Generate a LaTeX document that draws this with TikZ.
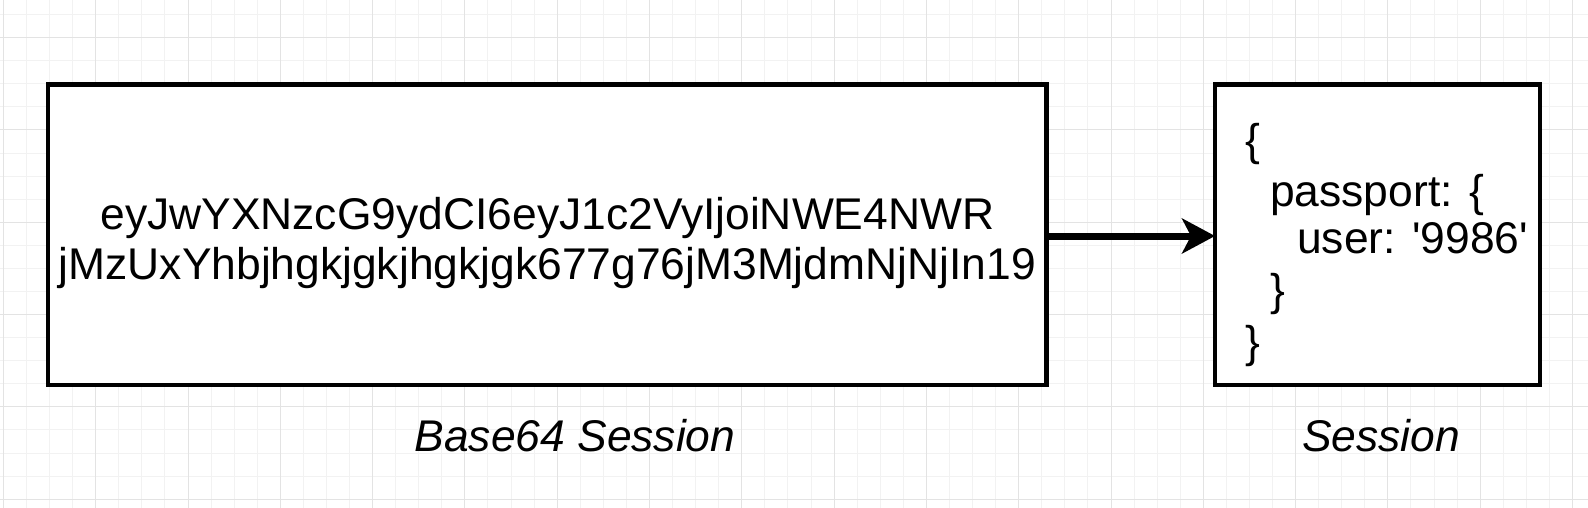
\documentclass[tikz,border=0pt]{standalone}
\usepackage{fontspec}
\setmainfont{Liberation Sans}[Ligatures=TeXOff]
\usetikzlibrary{arrows.meta}
\begin{document}
\begin{tikzpicture}[x=1pt,y=-1pt,
  gridminor/.style={draw=black!5, line width=1pt},
  gridmajor/.style={draw=black!11, line width=1pt},
  box/.style={draw=black, line width=4.5pt, inner sep=0pt, outer sep=0pt, fill=white},
  boxtext/.style={inner sep=0pt, font=\fontsize{44.4}{50}\selectfont},
  caption/.style={inner sep=0pt, font=\fontsize{44.4}{50}\selectfont\itshape},
  flow/.style={line width=7pt, -{Stealth[length=33pt,width=35pt,inset=9pt]}}
]
\useasboundingbox (0,0) rectangle (1588,508);
\fill[white] (0,0) rectangle (1588,508);
\foreach \i in {0,...,68} \draw[gridminor] ({3.4+\i*23.075},0) -- ({3.4+\i*23.075},508);
\foreach \j in {0,...,21} \draw[gridminor] (0,{14.6+\j*23.075}) -- (1588,{14.6+\j*23.075});
\foreach \i in {0,...,17} \draw[gridmajor] ({3.4+\i*92.3},0) -- ({3.4+\i*92.3},508);
\foreach \j in {0,...,5} \draw[gridmajor] (0,{37.7+\j*92.3}) -- (1588,{37.7+\j*92.3});

\node[box, minimum width=998.7pt, minimum height=300.5pt] (b64) at (547.35,234.75) {};
\node[box, minimum width=325pt, minimum height=300.5pt] (sess) at (1377.5,234.75) {};

\coordinate (ay) at (0,236);
\draw[flow] (b64.east |- ay) -- (sess.west |- ay);

\node[boxtext, anchor=base] (b64l1) at (547.35,229.5) {eyJwYXNzcG9ydCI6eyJ1c2VyIjoiNWE4NWR};
\node[boxtext, anchor=base] (b64l2) at (547.35,279.5) {jMzUxYhbjhgkjgkjhgkjgk677g76jM3MjdmNjNjIn19};

\node[boxtext, anchor=base west] (s1) at (1245,155.5) {\{};
\node[boxtext, anchor=base west] (s2) at (1270,206) {passport: \{};
\node[boxtext, anchor=base west] (s3) at (1297,253) {user: '9986'};
\node[boxtext, anchor=base west] (s4) at (1270,305.5) {\}};
\node[boxtext, anchor=base west] (s5) at (1245,357) {\}};

\node[caption, anchor=base] (cap1) at (575,451.7) {Base64 Session};
\node[caption, anchor=base] (cap2) at (1381,451.7) {Session};
\end{tikzpicture}
\end{document}
